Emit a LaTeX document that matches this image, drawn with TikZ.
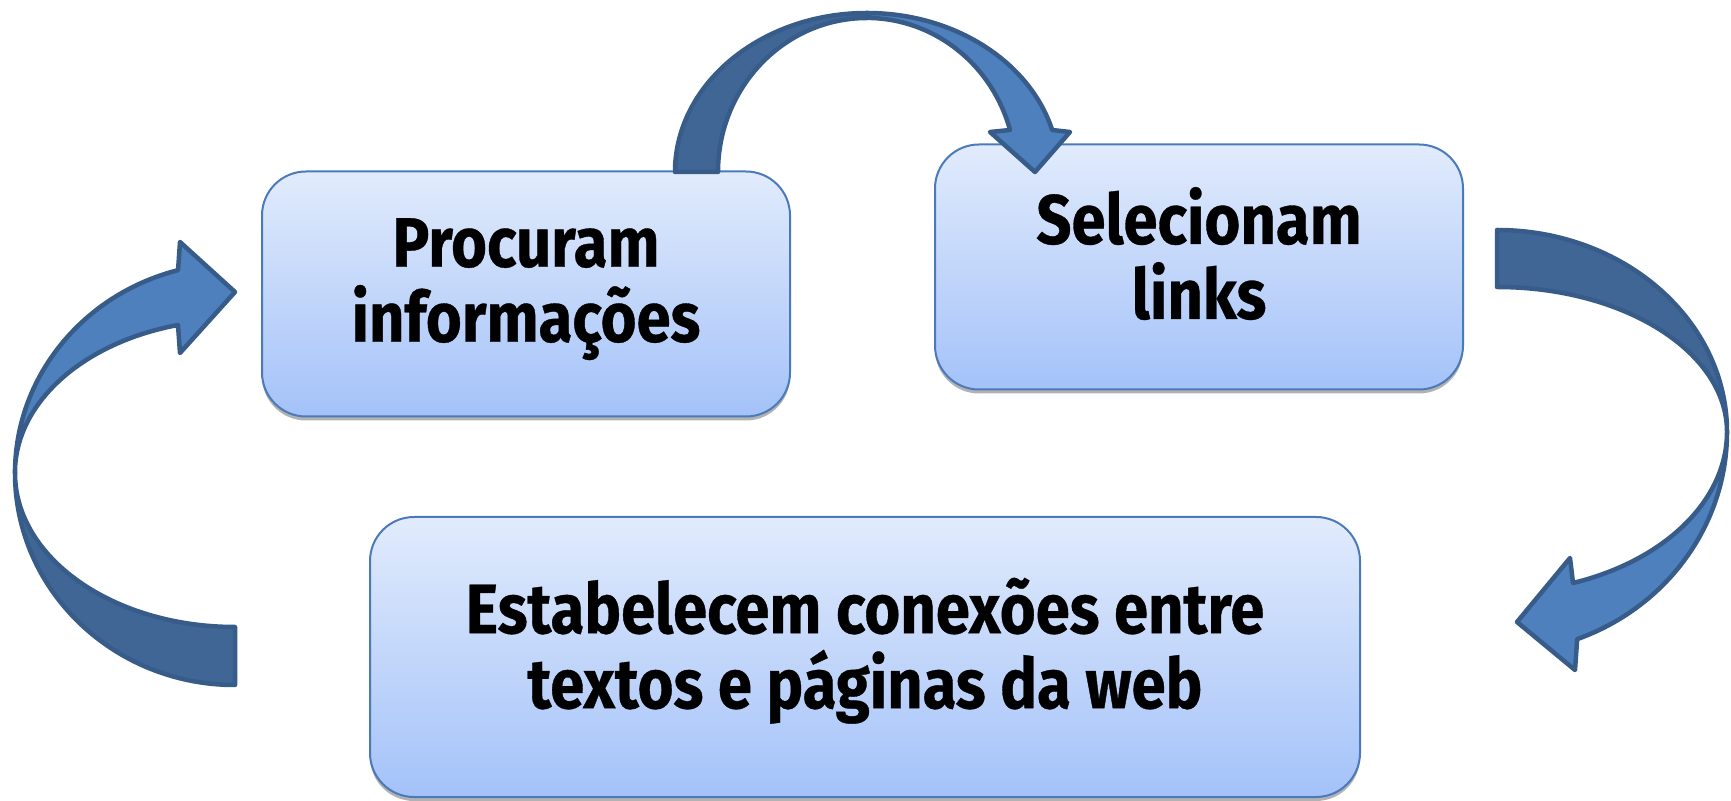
\documentclass[tikz,border=0pt]{standalone}
\usepackage{fontspec}
\usepackage{tikz}
\usetikzlibrary{shadows}
\newfontfamily\boxfont[FakeStretch=0.88, FakeBold=0.5]{Fira Sans}
\newcommand\linestrut{\rule[-28pt]{0pt}{98pt}}

\begin{document}
\begin{tikzpicture}[x=1pt,y=1pt,
    stagebox/.style={draw=boxedge, line width=2pt, rounded corners=44pt,
        top color=boxtop, bottom color=boxbottom, align=center, inner sep=0pt,
        font=\boxfont\bfseries\fontsize{70}{75}\selectfont,
        execute at begin node=\linestrut, execute at end node=\linestrut,
        drop shadow={shadow xshift=0pt, shadow yshift=-4pt, opacity=.3, fill=black}},
    backpart/.style={fill=arrowdark, draw=arrowedge, line width=4.5pt, line join=round},
    frontpart/.style={fill=arrowlight, draw=arrowedge, line width=4.5pt, line join=round}]
    \definecolor{boxtop}{RGB}{225,235,252}
    \definecolor{boxbottom}{RGB}{164,194,249}
    \definecolor{boxedge}{RGB}{74,122,186}
    \definecolor{arrowdark}{RGB}{64,102,150}
    \definecolor{arrowlight}{RGB}{77,128,188}
    \definecolor{arrowedge}{RGB}{56,92,138}

    \useasboundingbox (0,0) rectangle (1731,800);

    \node[stagebox, minimum width=528pt, minimum height=245pt] (proc) at (526,506) {Procuram\\informações};
    \node[stagebox, minimum width=528pt, minimum height=245pt] (sel) at (1199,533) {Selecionam\\links};
    \node[stagebox, minimum width=990pt, minimum height=280pt] (est) at (865,143) {Estabelecem conexões entre\\textos e páginas da web};

    \filldraw[backpart] (675,628) arc[start angle=180, end angle=90, x radius=192, y radius=159]
        -- (867,782) arc[start angle=90, end angle=180, x radius=149, y radius=154] -- cycle;
    \filldraw[frontpart] (867,787) arc[start angle=90, end angle=15.3, x radius=192, y radius=159]
        -- (1070,668) -- (1035,628) -- (990,668)
        -- (1010,670) arc[start angle=15.8, end angle=90, x radius=149, y radius=154] -- cycle;

    \filldraw[backpart] (1497,570) arc[start angle=90, end angle=0, x radius=230, y radius=202]
        arc[start angle=0, end angle=90, x radius=230, y radius=145] -- cycle;
    \filldraw[frontpart] (1727,368) arc[start angle=0, end angle=-69.6, x radius=230, y radius=221]
        -- (1575,130) -- (1517,178) -- (1570,242)
        -- (1573,217) arc[start angle=-70.7, end angle=0, x radius=230, y radius=160] -- cycle;

    \filldraw[backpart] (15,327) arc[start angle=180, end angle=270, x radius=220, y radius=212]
        -- (235,173) arc[start angle=270, end angle=180, x radius=220, y radius=154] -- cycle;
    \filldraw[frontpart] (15,327) arc[start angle=180, end angle=105, x radius=220, y radius=210]
        -- (180,558) -- (235,508) -- (180,447)
        -- (178,475) arc[start angle=105, end angle=180, x radius=220, y radius=153] -- cycle;
\end{tikzpicture}
\end{document}
